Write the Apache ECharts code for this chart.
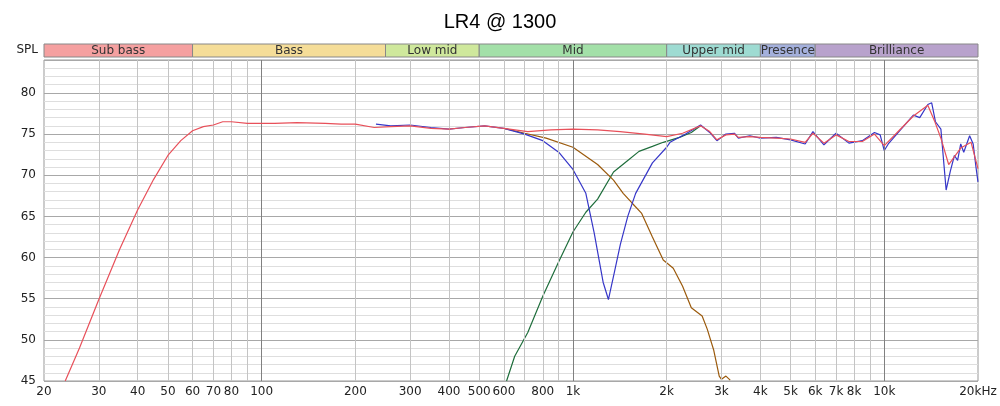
<!DOCTYPE html>
<html><head><meta charset="utf-8">
<script src="https://cdn.jsdelivr.net/npm/echarts@6/dist/echarts.min.js"></script>
<style>html,body{margin:0;padding:0;background:#fff}#c{width:1000px;height:406px}</style>
</head><body><div id="c"></div>
<script>
var chart = echarts.init(document.getElementById('c'));

// frequency bands for the header strip
var bandNames = ['Sub bass', 'Bass', 'Low mid', 'Mid', 'Upper mid', 'Presence', 'Brilliance'];
var bandEdges = [20, 60, 250, 500, 2000, 4000, 6000, 20000];
var bandColors = ['#f5a0a0', '#f5dd98', '#cfe89c', '#a3e0a8', '#9edbd2', '#a4b0dc', '#b8a2cc'];

// x grid lines and labels
var gridFreqs = [30,40,50,60,70,80,90,200,300,400,500,600,700,800,900,2000,3000,4000,5000,6000,7000,8000,9000];
var majorFreqs = [100, 1000, 10000];
var tickLabels = {20:'20',30:'30',40:'40',50:'50',60:'60',70:'70',80:'80',100:'100',200:'200',300:'300',400:'400',500:'500',
  600:'600',800:'800',1000:'1k',2000:'2k',3000:'3k',4000:'4k',5000:'5k',6000:'6k',7000:'7k',8000:'8k',10000:'10k',20000:'20kHz'};

// curves [freq, dB]
var redData = [[23.4,45],[26,49],[30,54.9],[35,61],[40,65.8],[45,69.5],[50,72.4],[55,74.2],[60,75.4],[65,75.9],[70,76.1],[75,76.5],[80,76.5],[90,76.3],
  [110,76.3],[130,76.4],[160,76.3],[180,76.2],[200,76.2],[230,75.8],[260,75.9],[300,76.0],[350,75.7],[400,75.6],[450,75.8],[520,76.0],[600,75.7],
  [716,75.3],[850,75.5],[1000,75.6],[1200,75.5],[1417,75.3],[1700,75.0],[2000,74.7],[2250,75.1],[2570,76.0],[2750,75.3],[2900,74.3],[3100,74.9],
  [3300,75.0],[3400,74.6],[3700,74.7],[4000,74.6],[4500,74.5],[5000,74.4],[5570,74.0],[5900,75.1],[6400,73.9],[7000,74.9],[7700,74.1],[8500,74.1],
  [9300,75.0],[10000,73.6],[11200,75.5],[12400,77.2],[13800,78.5],[14500,76.6],[15200,74.5],[16100,71.3],[17600,73.3],[19000,74.0],[20000,70.8]];
var blueData = [[233,76.2],[260,76.0],[300,76.1],[350,75.8],[400,75.6],[450,75.8],[520,76.0],[600,75.7],[700,75.0],[800,74.2],[900,72.8],
  [1000,70.7],[1100,67.8],[1170,63],[1250,57],[1300,54.9],[1360,58.3],[1420,61.6],[1500,65],[1590,67.8],[1800,71.5],[2000,73.4],[2050,74.0],
  [2300,75.0],[2570,76.1],[2750,75.2],[2900,74.2],[3100,75.0],[3300,75.1],[3400,74.5],[3700,74.8],[4000,74.5],[4500,74.6],[5000,74.3],[5570,73.8],
  [5900,75.3],[6400,73.7],[7000,75.1],[7700,73.9],[8500,74.2],[9300,75.2],[9700,74.9],[10000,73.0],[10300,73.8],[11200,75.4],[12400,77.3],[13000,77.0],
  [13800,78.6],[14200,78.8],[14600,76.5],[15200,75.6],[15800,68.2],[16300,70.5],[16800,72.4],[17200,71.8],[17600,73.8],[18000,72.8],[18800,74.8],
  [19300,73.8],[19700,71],[20000,69.2]];
var greenData = [[612,45],[650,48],[716,50.9],[800,55.3],[900,59.5],[1000,63.1],[1100,65.5],[1200,67.1],[1350,70.4],[1500,71.8],[1630,72.9],
  [1800,73.5],[1950,74.0],[2200,74.6],[2400,75.2],[2570,76.0]];
var brownData = [[600,75.7],[700,75.1],[820,74.5],[1000,73.4],[1200,71.3],[1350,69.4],[1450,67.8],[1550,66.6],[1660,65.4],[1800,62.5],[1950,59.7],
  [2100,58.7],[2250,56.5],[2400,53.9],[2600,52.9],[2700,51.3],[2830,48.8],[2950,45.6],[3000,45.2],[3100,45.6],[3200,45.1]];

var gridLines = gridFreqs.map(function(f){ return {xAxis: f, lineStyle:{color:'#c4c4c4', width:1, type:'solid'}}; })
  .concat(majorFreqs.map(function(f){ return {xAxis: f, lineStyle:{color:'#808080', width:1, type:'solid'}}; }));
var labelLines = Object.keys(tickLabels).map(function(k){
  return {xAxis: +k, lineStyle:{color:'rgba(0,0,0,0)', width:1},
    label:{show:true, position:'start', formatter: tickLabels[k], color:'#222', fontSize:12, distance:5}};
});

var bandAreas = bandNames.map(function(n, i){
  return [{xAxis: bandEdges[i], name: n, itemStyle:{color: bandColors[i], borderColor:'#888', borderWidth:1}}, {xAxis: bandEdges[i+1]}];
});

function curve(data, color, z){
  return {type:'line', data:data, xAxisIndex:0, yAxisIndex:0, showSymbol:false, symbol:'none', z:z,
    lineStyle:{color:color, width:1.2}, clip:true, animation:false};
}

chart.setOption({
  animation:false,
  backgroundColor:'#fff',
  textStyle:{fontFamily:'DejaVu Sans'},
  title:{text:'LR4 @ 1300', left:'center', top:7, textStyle:{fontSize:20, fontWeight:'normal', color:'#000', fontFamily:'Liberation Sans'}},
  grid:[
    {left:44, right:22, top:60, bottom:25, show:true, backgroundColor:'#fff', borderColor:'#999', borderWidth:1},
    {left:44, right:22, top:44, height:13}
  ],
  xAxis:[
    {type:'log', logBase:10, min:20, max:20000, gridIndex:0, axisLine:{show:false}, axisTick:{show:false}, axisLabel:{show:false}, splitLine:{show:false}},
    {type:'log', logBase:10, min:20, max:20000, gridIndex:1, show:false}
  ],
  yAxis:[
    {type:'value', min:45, max:84, interval:5, gridIndex:0, name:'SPL', nameLocation:'end', nameGap:4,
     nameTextStyle:{color:'#222', fontSize:12, align:'right', padding:[0,6,0,0]},
     axisLine:{show:false}, axisTick:{show:false},
     axisLabel:{color:'#222', fontSize:12, margin:8, formatter:function(v){ return v % 5 === 0 ? v : ''; }},
     splitLine:{lineStyle:{color:'#a8a8a8'}}, minorTick:{show:false, splitNumber:5},
     minorSplitLine:{show:true, lineStyle:{color:'#dedede'}}},
    {type:'value', min:0, max:1, gridIndex:1, show:false}
  ],
  series:[
    {type:'line', xAxisIndex:0, yAxisIndex:0, data:[], silent:true, z:1,
     markLine:{silent:true, symbol:'none', animation:false, label:{show:false}, data:gridLines}},
    {type:'line', xAxisIndex:0, yAxisIndex:0, data:[[20,45]], showSymbol:false, lineStyle:{opacity:0}, silent:true, z:1,
     markLine:{silent:true, symbol:'none', animation:false, data:labelLines}},
    {type:'line', xAxisIndex:1, yAxisIndex:1, data:[[20,0.5]], showSymbol:false, lineStyle:{opacity:0}, silent:true,
     markArea:{silent:true, label:{show:true, position:'inside', color:'#333', fontSize:12}, data:bandAreas}},
    curve(greenData, '#1f6e3c', 3),
    curve(brownData, '#9b5a0c', 3),
    curve(blueData, '#3636c8', 4),
    curve(redData, '#e8505a', 5)
  ]
});
</script>
</body></html>
